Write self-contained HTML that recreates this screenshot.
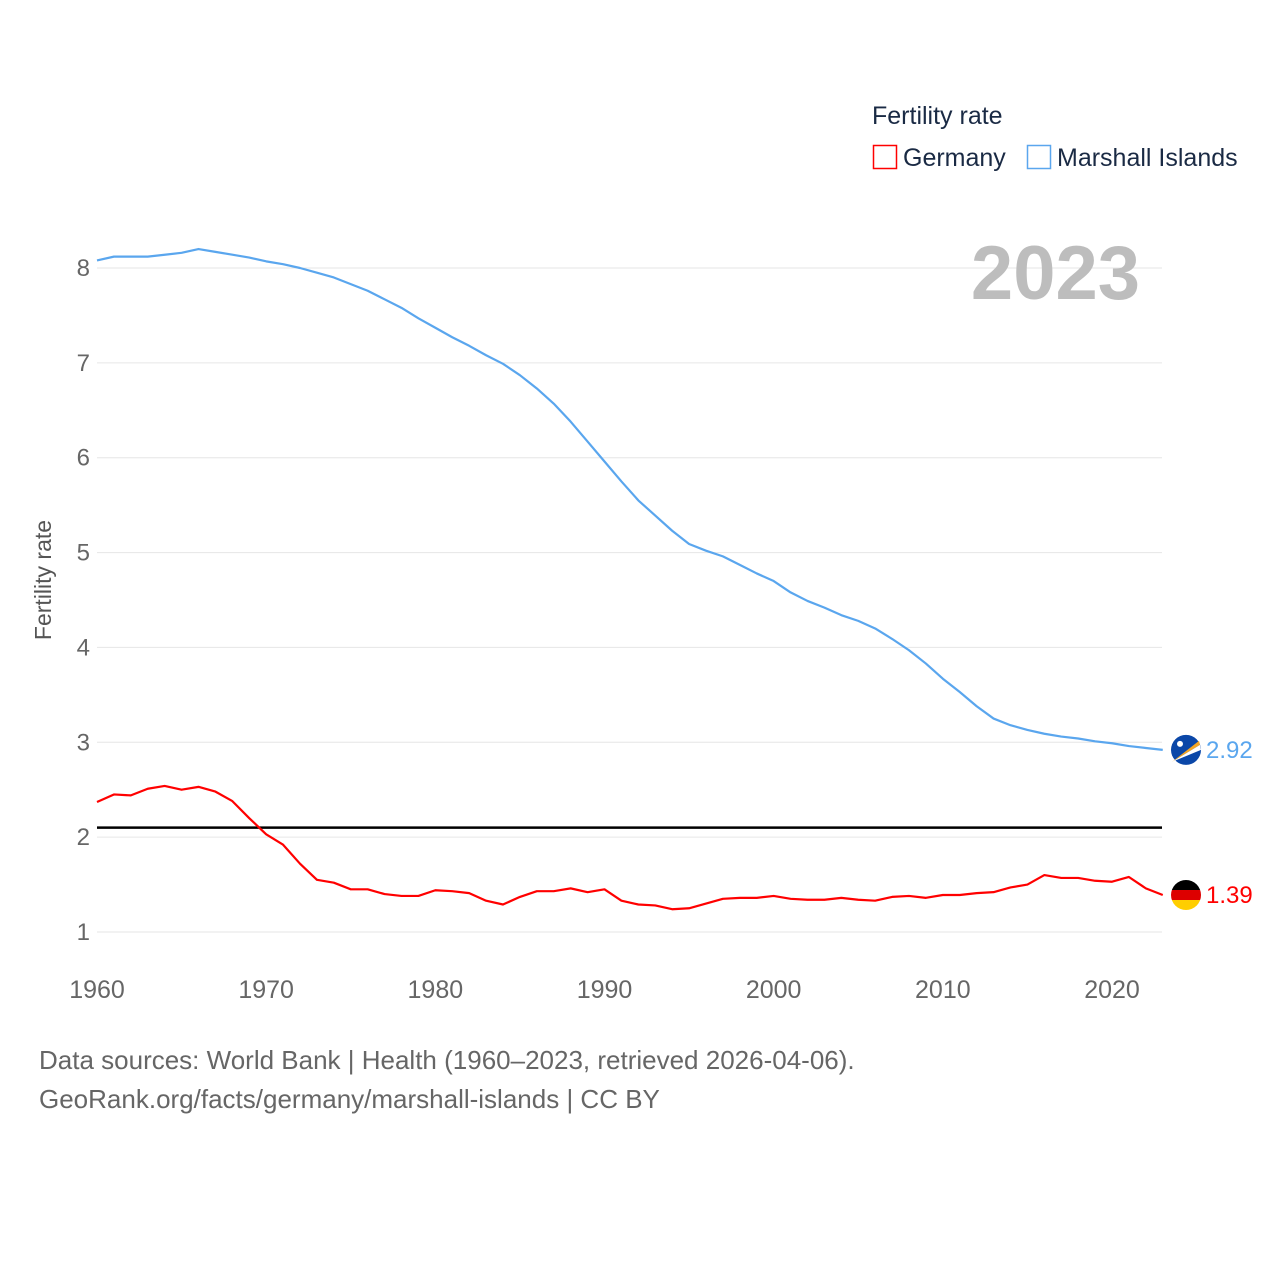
<!DOCTYPE html>
<html><head><meta charset="utf-8"><style>
body{margin:0;background:#fff;}
svg text{font-family:"Liberation Sans",sans-serif;}
</style></head><body>
<svg id="chart" width="1280" height="1280" xmlns="http://www.w3.org/2000/svg">
<rect width="1280" height="1280" fill="#fff"/>
<g id="grid"></g>
<g id="yticks"></g>
<g id="xticks"></g>
<text x="1140" y="299" text-anchor="end" font-size="76" font-weight="bold" fill="#bdbdbd">2023</text>
<text transform="translate(51,580) rotate(-90)" text-anchor="middle" font-size="23" fill="#555">Fertility rate</text>
<g id="series"></g>
<g>
<text x="872" y="124" font-size="25" fill="#1a2a44">Fertility rate</text>
<g><rect x="873.5" y="145.5" width="23" height="23" fill="none" stroke="#f00" stroke-width="1.5"/><text x="903" y="166" font-size="25" fill="#1a2a44">Germany</text></g>
<g><rect x="1027.5" y="145.5" width="23" height="23" fill="none" stroke="#5aa6ee" stroke-width="1.5"/><text x="1057" y="166" font-size="25" fill="#1a2a44">Marshall Islands</text></g>
</g>
<text x="39" y="1069" font-size="26" fill="#666">Data sources: World Bank | Health (1960–2023, retrieved 2026-04-06).</text>
<text x="39" y="1108" font-size="26" fill="#666">GeoRank.org/facts/germany/marshall-islands | CC BY</text>
</svg>
<script>
const years = [];for(let y=1960;y<=2023;y++)years.push(y);
const marshall=[8.08,8.12,8.12,8.12,8.14,8.16,8.2,8.17,8.14,8.11,8.07,8.04,8.0,7.95,7.9,7.83,7.76,7.67,7.58,7.47,7.37,7.27,7.18,7.08,6.99,6.87,6.73,6.57,6.38,6.17,5.96,5.75,5.55,5.39,5.23,5.09,5.02,4.96,4.87,4.78,4.7,4.58,4.49,4.42,4.34,4.28,4.2,4.09,3.97,3.83,3.67,3.53,3.38,3.25,3.18,3.13,3.09,3.06,3.04,3.01,2.99,2.96,2.94,2.92];
const germany=[2.37,2.45,2.44,2.51,2.54,2.5,2.53,2.48,2.38,2.2,2.03,1.92,1.72,1.55,1.52,1.45,1.45,1.4,1.38,1.38,1.44,1.43,1.41,1.33,1.29,1.37,1.43,1.43,1.46,1.42,1.45,1.33,1.29,1.28,1.24,1.25,1.3,1.35,1.36,1.36,1.38,1.35,1.34,1.34,1.36,1.34,1.33,1.37,1.38,1.36,1.39,1.39,1.41,1.42,1.47,1.5,1.6,1.57,1.57,1.54,1.53,1.58,1.46,1.39];
const yTicks=[1,2,3,4,5,6,7,8];
const xTicks=[1960,1970,1980,1990,2000,2010,2020];
const replacementRate=2.1;
const NS="http://www.w3.org/2000/svg";
const xS=y=>97+(y-1960)*(1015/60);
const yS=v=>932-(v-1)*(664/7);
function mk(tag,attrs,parent,txt){const e=document.createElementNS(NS,tag);for(const k in attrs)e.setAttribute(k,attrs[k]);if(txt!==undefined)e.textContent=txt;parent.appendChild(e);return e;}
const grid=document.getElementById('grid'),yt=document.getElementById('yticks'),xt=document.getElementById('xticks'),ser=document.getElementById('series');
yTicks.forEach(v=>{
 const l=mk('line',{x1:97,x2:1162,y1:yS(v),y2:yS(v),stroke:'#e6e6e6','stroke-width':1},grid);
 
 
 const t=mk('text',{x:90,y:yS(v)+8,'text-anchor':'end','font-size':24,fill:'#666'},yt,String(v));
 
 
});
xTicks.forEach(y=>{
 const t=mk('text',{x:xS(y),y:998,'text-anchor':'middle','font-size':25,fill:'#666'},xt,String(y));
 
 
});
const rl=mk('line',{x1:97,x2:1162,y1:yS(replacementRate),y2:yS(replacementRate),stroke:'#000','stroke-width':2.5},ser);


function line(data,color,name){
 const p=mk('polyline',{points:data.map((v,i)=>xS(years[i])+','+yS(v)).join(' '),fill:'none',stroke:color,'stroke-width':2.2,'stroke-linejoin':'round'},ser);
 
 
}
line(marshall,'#5aa6ee','marshall-islands-line');
line(germany,'#f00','germany-line');
const last=years.length-1;
const mY=yS(marshall[last]), gY=yS(germany[last]);
const mf=mk('g',{},ser);


mk('circle',{cx:1186,cy:mY,r:15,fill:'#0b47a8'},mf);
mk('path',{d:`M1172,${mY+12} L1199,${mY-9} L1200,${mY-5} Z`,fill:'#f5a623'},mf);
mk('path',{d:`M1172,${mY+12} L1200,${mY-5} L1201,${mY} Z`,fill:'#fff'},mf);
mk('circle',{cx:1180,cy:mY-6,r:3,fill:'#fff'},mf);
const ml=mk('text',{x:1206,y:mY+8,'font-size':24,fill:'#5aa6ee'},ser,marshall[last].toFixed(2));


const gf=mk('g',{},ser);


mk('clipPath',{id:'gc'},gf);
mk('circle',{cx:1186,cy:gY,r:15},gf.lastChild);
mk('rect',{x:1171,y:gY-15,width:30,height:10,fill:'#000','clip-path':'url(#gc)'},gf);
mk('rect',{x:1171,y:gY-5,width:30,height:10,fill:'#dd0000','clip-path':'url(#gc)'},gf);
mk('rect',{x:1171,y:gY+5,width:30,height:10,fill:'#ffce00','clip-path':'url(#gc)'},gf);
const gl=mk('text',{x:1206,y:gY+8,'font-size':24,fill:'#f00'},ser,germany[last].toFixed(2));


</script>
</body></html>
